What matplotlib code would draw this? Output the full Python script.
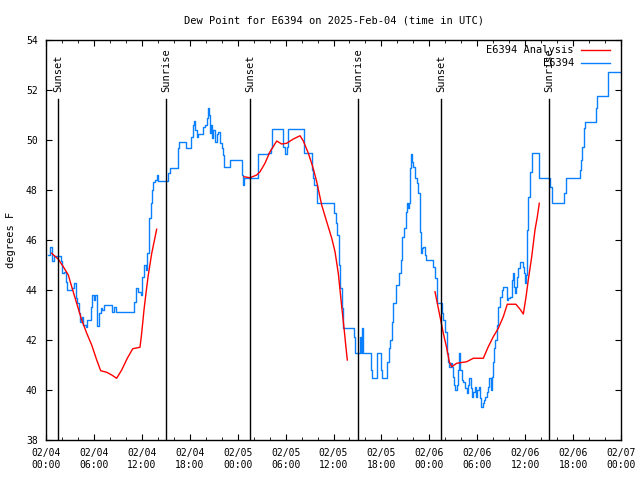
"""Dew point at E6394 with analysis overlay, 2025-02-04 .. 02-07 (UTC)."""

import matplotlib
matplotlib.use("Agg")
import matplotlib.pyplot as plt
import matplotlib.dates as mdates
import numpy as np
import pandas as pd

plt.rcParams["font.family"] = ["DejaVu Sans Mono"]

START = pd.Timestamp("2025-02-04 00:00")

# station obs: hours since start, dew point (F)
obs_hours = [
    0.25, 0.50, 0.79, 1.00, 1.75, 1.92, 2.04, 2.25, 2.46, 2.59, 3.09, 3.30, 3.50,
    3.71, 3.92, 4.13, 4.26, 4.47, 4.67, 4.96, 5.17, 5.59, 5.80, 6.00, 6.14, 6.35,
    6.64, 6.85, 7.05, 7.26, 8.10, 8.30, 8.51, 8.73, 10.60, 11.02, 11.23, 11.52,
    11.85, 12.06, 12.27, 12.48, 12.69, 12.94, 13.11, 13.27, 13.36, 13.65, 13.86,
    14.06, 15.11, 15.31, 15.53, 16.37, 16.49, 16.69, 17.40, 17.53, 18.03, 18.16,
    18.37, 18.57, 18.70, 18.87, 19.07, 19.50, 19.70, 19.91, 20.12, 20.29, 20.45,
    20.54, 20.70, 20.82, 20.95, 21.12, 21.37, 21.58, 21.79, 22.00, 22.13, 22.33,
    22.83, 23.04, 24.38, 24.50, 24.63, 24.79, 26.38, 26.59, 27.84, 28.14, 28.34,
    29.59, 29.72, 29.93, 30.14, 30.34, 32.10, 32.31, 33.06, 33.27, 33.39, 33.56,
    33.90, 35.85, 36.06, 36.31, 36.48, 36.65, 36.81, 37.03, 37.23, 38.48, 38.60,
    38.73, 39.11, 39.32, 39.40, 39.53, 39.73, 40.48, 40.66, 40.78, 41.29, 41.41,
    41.74, 41.91, 42.04, 42.57, 42.74, 42.95, 43.07, 43.29, 43.49, 43.79, 44.24,
    44.42, 44.62, 44.83, 45.08, 45.24, 45.37, 45.49, 45.62, 45.74, 45.87, 45.99,
    46.21, 46.42, 46.62, 46.83, 46.96, 47.08, 47.25, 47.45, 47.58, 48.30, 48.50,
    48.71, 48.92, 49.00, 49.34, 49.55, 49.75, 49.96, 50.18, 50.25, 50.38, 50.50,
    50.68, 50.80, 50.93, 51.09, 51.25, 51.43, 51.59, 51.72, 51.84, 52.05, 52.26,
    52.43, 52.68, 52.88, 53.00, 53.18, 53.31, 53.51, 53.68, 53.85, 54.01, 54.18,
    54.35, 54.51, 54.68, 54.85, 55.01, 55.18, 55.38, 55.51, 55.69, 55.81, 56.01,
    56.14, 56.26, 56.44, 56.64, 56.85, 57.06, 57.26, 57.48, 57.69, 57.89, 58.10,
    58.32, 58.44, 58.60, 58.73, 58.85, 59.02, 59.14, 59.36, 59.60, 59.69, 59.85,
    59.98, 60.10, 60.18, 60.39, 60.60, 60.82, 61.45, 61.77, 63.02, 63.15, 63.32,
    64.78, 64.90, 65.08, 66.78, 66.86, 66.99, 67.16, 67.37, 67.49, 68.75, 68.87,
    69.03, 70.21, 70.34, 70.41, 71.88,
]
obs_dewpt = [
    45.40, 45.71, 45.17, 45.36, 45.36, 45.17, 44.67, 44.73, 44.33, 44.00, 44.00, 44.07, 44.27,
    43.67, 43.47, 43.07, 42.73, 42.93, 42.60, 42.51, 42.80, 43.33, 43.80, 43.60, 43.80, 42.56,
    43.07, 43.27, 43.20, 43.40, 43.40, 43.13, 43.33, 43.13, 43.13, 43.53, 44.07, 43.93,
    43.80, 44.53, 45.00, 44.80, 45.47, 46.87, 47.47, 48.00, 48.33, 48.40, 48.60,
    48.36, 48.36, 48.67, 48.89, 48.89, 49.67, 49.91, 49.91, 49.67, 49.67, 50.13,
    50.60, 50.76, 50.40, 50.13, 50.23, 50.23, 50.53, 50.60, 50.87, 51.27, 51.00,
    50.27, 50.60, 50.07, 50.40, 49.93, 50.23, 50.33, 49.87, 49.69, 49.40, 48.93,
    48.93, 49.20, 49.20, 48.60, 48.20, 48.47, 48.47, 49.43, 49.47, 49.67, 50.44,
    50.44, 49.73, 49.43, 49.73, 50.44, 50.44, 49.47, 49.47, 48.80, 48.47, 48.20,
    47.47, 47.47, 47.07, 46.67, 46.20, 45.00, 44.07, 43.27, 42.47, 42.47, 42.13,
    41.47, 41.47, 42.13, 41.47, 42.47, 41.47, 41.47, 40.80, 40.47, 40.47, 41.47,
    41.47, 40.80, 40.47, 40.47, 41.13, 41.67, 42.00, 42.73, 43.47, 44.20, 44.67,
    45.20, 46.13, 46.47, 47.13, 47.47, 47.27, 47.47, 48.87, 49.44, 49.13, 48.93,
    48.47, 48.27, 47.87, 46.33, 45.47, 45.67, 45.73, 45.40, 45.20, 45.20, 44.93,
    44.47, 44.13, 43.47, 43.47, 43.07, 42.80, 42.33, 42.00, 41.47, 41.13, 40.93,
    41.07, 40.93, 40.53, 40.20, 40.00, 40.20, 40.80, 41.47, 40.80, 40.40, 40.33,
    40.07, 39.87, 40.20, 40.47, 40.07, 39.73, 39.93, 40.13, 39.73, 40.00, 40.13,
    39.67, 39.33, 39.47, 39.60, 39.73, 39.93, 40.13, 40.47, 40.00, 40.53, 41.13,
    41.67, 42.00, 42.60, 43.33, 43.73, 44.00, 44.11, 44.11, 43.60, 43.67, 43.73,
    44.40, 44.67, 44.13, 43.87, 44.13, 44.53, 44.87, 45.13, 45.13, 44.93, 44.67,
    44.27, 44.60, 46.40, 47.73, 48.73, 49.47, 49.47, 48.47, 48.47, 48.13, 47.47,
    47.47, 47.87, 48.47, 48.47, 48.80, 49.20, 49.73, 50.47, 50.73, 50.73, 51.27,
    51.76, 51.76, 52.27, 52.73, 52.73,
]

# analysis: three runs, gaps between them
ana_hours_1 = [0.71, 1.54, 2.17, 2.79, 3.22, 3.84, 4.47, 5.10, 5.72, 6.35, 6.85, 7.60,
               8.23, 8.85, 9.48, 10.18, 10.86, 11.77, 11.98, 12.27, 12.52, 12.81, 13.24, 13.86]
ana_dewpt_1 = [45.47, 45.23, 44.93, 44.60, 44.13, 43.47, 42.80, 42.27, 41.80, 41.20, 40.77, 40.71,
               40.60, 40.47, 40.80, 41.27, 41.65, 41.71, 42.27, 43.20, 43.87, 44.60, 45.47, 46.43]
ana_hours_2 = [24.79, 25.54, 26.38, 26.80, 27.42, 28.05, 28.89, 29.51, 30.14, 30.97, 31.81, 32.22,
               32.85, 33.40, 33.90, 34.52, 35.15, 35.78, 36.19, 36.60, 37.03, 37.32, 37.53, 37.73]
ana_dewpt_2 = [48.53, 48.49, 48.60, 48.73, 49.07, 49.53, 49.96, 49.84, 49.87, 50.04, 50.17, 49.96,
               49.47, 48.93, 48.33, 47.40, 46.73, 46.07, 45.53, 44.67, 43.33, 42.47, 41.80, 41.20]
ana_hours_3 = [48.71, 49.00, 49.34, 49.75, 50.18, 50.50, 50.80, 51.43, 52.68, 53.51, 54.76, 55.38,
               56.01, 56.64, 57.26, 57.76, 58.85, 59.36, 59.77, 60.11, 60.39, 60.82, 61.23, 61.52, 61.77]
ana_dewpt_3 = [43.93, 43.47, 42.93, 42.27, 41.67, 41.13, 40.93, 41.07, 41.13, 41.27, 41.27, 41.73,
               42.13, 42.47, 42.93, 43.43, 43.43, 43.23, 43.04, 43.73, 44.40, 45.33, 46.40, 46.93, 47.47]

sun_labels = ["Sunset", "Sunrise", "Sunset", "Sunrise", "Sunset", "Sunrise"]
sun_hours = [1.54, 15.06, 25.58, 39.11, 49.50, 63.02]


def to_time(hours):
    return START + pd.to_timedelta(np.asarray(hours, dtype=float), unit="h")


RED = "#ff0000"
BLUE = "#0a80ff"

fig = plt.figure(figsize=(6.4, 4.8), dpi=100)
ax = fig.add_axes([46 / 640, 40 / 480, 575 / 640, 400 / 480])

ax.plot(to_time(obs_hours), obs_dewpt, color=BLUE, lw=1.0, drawstyle="steps-post", zorder=2)
for hh, vv in [(ana_hours_1, ana_dewpt_1), (ana_hours_2, ana_dewpt_2), (ana_hours_3, ana_dewpt_3)]:
    ax.plot(to_time(hh), vv, color=RED, lw=1.0, zorder=3)

for lab, t in zip(sun_labels, to_time(sun_hours)):
    ax.plot([t, t], [38, 51.64], color="k", lw=1.0, zorder=4)
    ax.text(t, 51.92, lab, rotation=90, ha="center", va="bottom", fontsize=7.5)

# legend, gnuplot style: text right aligned, sample to the right
for i, (lab, col) in enumerate([("E6394 Analysis", RED), ("E6394", BLUE)]):
    y = 0.975 - i * 0.0325
    ax.text(0.918, y, lab, transform=ax.transAxes, ha="right", va="center", fontsize=7.5)
    ax.plot([0.930, 0.981], [y, y], transform=ax.transAxes, color=col, lw=1.0)

ax.set_xlim(START, START + pd.Timedelta(hours=72))
ax.set_ylim(38, 54)
ax.set_yticks(np.arange(38, 55, 2))
ax.xaxis.set_major_locator(mdates.HourLocator(byhour=[0, 6, 12, 18]))
ax.xaxis.set_minor_locator(mdates.HourLocator(byhour=range(0, 24, 2)))
ax.xaxis.set_major_formatter(mdates.DateFormatter("%m/%d\n%H:%M"))
ax.tick_params(which="both", direction="in", top=True, right=True, labelsize=7)
ax.tick_params(which="major", length=4, pad=6)
ax.tick_params(which="minor", length=2)
for s in ax.spines.values():
    s.set_linewidth(1.0)

ax.set_title("Dew Point for E6394 on 2025-Feb-04 (time in UTC)", fontsize=7.5, pad=12)
ax.set_ylabel("degrees F", fontsize=7.5, labelpad=7)

fig.savefig("out.png", dpi=100)
